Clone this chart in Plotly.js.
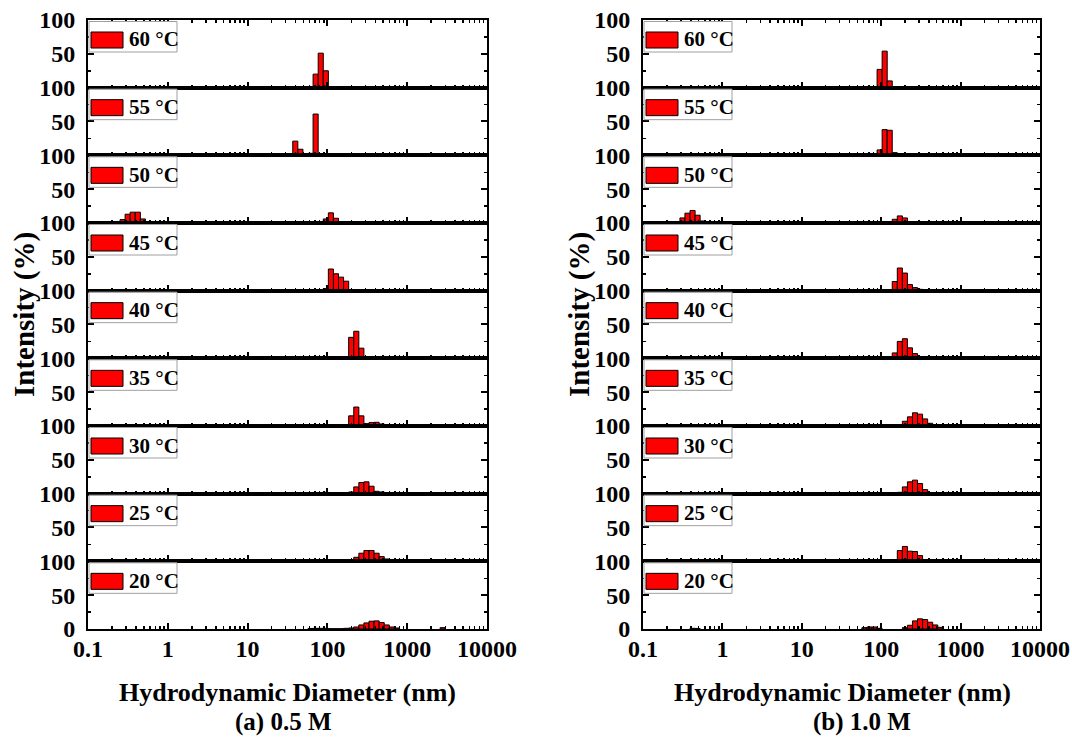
<!DOCTYPE html>
<html><head><meta charset="utf-8">
<script src="https://cdn.plot.ly/plotly-3.0.1.min.js"></script>
<style>html,body{margin:0;padding:0;background:#fff}#chart{width:1072px;height:738px}</style>
</head><body><div id="chart"></div>
<script>
// ---------------- DATA ----------------
const temps = ['60 °C','55 °C','50 °C','45 °C','40 °C','35 °C','30 °C','25 °C','20 °C'];
const xTickVals = [0.1, 1, 10, 100, 1000, 10000];
const xTickText = ['0.1', '1', '10', '100', '1000', '10000'];
const yTickVals = [0, 50, 100];
const binWidthDecades = 0.0637; // size-class width (log10 units)

// (a) 0.5 M : diameters (nm) and intensities (%)
const a60_d = [71.2, 82.5, 95.5];
const a60_i = [20, 51, 25];
const a55_d = [39.6, 45.9, 53.1, 61.5, 71.2];
const a55_i = [21, 9, 2, 3, 61];
const a50_d = [0.271, 0.314, 0.363, 0.421, 0.487, 95.5, 110.6, 128.0];
const a50_i = [5, 13, 16, 16, 6, 6, 15, 7];
const a45_d = [0.314, 95.5, 110.6, 128.0, 148.2, 171.7, 198.8];
const a45_i = [0.5, 3, 32, 25, 20, 14, 1];
const a40_d = [171.7, 198.8, 230.2, 266.5, 308.6];
const a40_i = [2, 31, 40, 15, 2];
const a35_d = [0.363, 0.421, 95.5, 110.6, 128.0, 198.8, 230.2, 266.5, 308.6, 357.3, 413.7, 479.1];
const a35_i = [0.8, 0.8, 1.5, 1.5, 1, 15, 28, 15, 3.5, 5, 5.5, 3];
const a30_d = [82.5, 95.5, 110.6, 198.8, 230.2, 266.5, 308.6, 357.3, 413.7, 479.1, 554.7];
const a30_i = [1, 2, 1.5, 2.5, 10, 16.5, 17.5, 11, 3.5, 2.5, 1.5];
const a25_d = [71.2, 82.5, 95.5, 148.2, 171.7, 198.8, 230.2, 266.5, 308.6, 357.3, 413.7, 479.1, 554.7, 642.3, 2782];
const a25_i = [0.5, 0.8, 0.5, 0.5, 0.5, 2, 6, 12, 16, 16, 12, 7, 3.5, 1.5, 1];
const a20_d = [61.5, 71.2, 82.5, 95.5, 110.6, 128.0, 148.2, 171.7, 198.8, 230.2, 266.5, 308.6, 357.3, 413.7, 479.1, 554.7, 642.3, 743.7, 2782];
const a20_i = [0.8, 1, 1, 1, 0.5, 0.5, 0.5, 1, 1.5, 3, 6, 9, 11.5, 12, 9.5, 6, 3, 1.5, 2];

// (b) 1.0 M
const b60_d = [95.5, 110.6, 128.0];
const b60_i = [27, 54, 10];
const b55_d = [0.363, 0.421, 95.5, 110.6, 128.0, 148.2];
const b55_i = [2, 1.5, 8, 38, 37, 4];
const b50_d = [0.271, 0.314, 0.363, 0.421, 0.487, 0.564, 148.2, 171.7, 198.8, 230.2];
const b50_i = [2, 7.5, 14.5, 18.5, 11.5, 3, 5.5, 10.5, 7.5, 1.5];
const b45_d = [0.421, 148.2, 171.7, 198.8, 230.2, 266.5, 308.6];
const b45_i = [1, 13.5, 33.5, 26, 9, 4.5, 2];
const b40_d = [0.756, 148.2, 171.7, 198.8, 230.2, 266.5, 308.6];
const b40_i = [0.8, 8, 25, 29, 15.5, 7, 2];
const b35_d = [0.421, 39.6, 45.9, 110.6, 128.0, 148.2, 171.7, 198.8, 230.2, 266.5, 308.6, 357.3, 413.7];
const b35_i = [1, 0.8, 0.8, 1.5, 1.5, 1, 2, 7, 13.5, 19.5, 17.5, 10.5, 4];
const b30_d = [0.363, 0.421, 61.5, 171.7, 198.8, 230.2, 266.5, 308.6, 357.3, 413.7];
const b30_i = [0.5, 0.5, 0.5, 2, 10, 17.5, 20, 15, 6, 1.5];
const b25_d = [0.363, 0.421, 148.2, 171.7, 198.8, 230.2, 266.5, 308.6, 357.3];
const b25_i = [0.8, 1, 2, 16, 22, 15, 14.5, 8.5, 1.5];
const b20_d = [0.421, 0.487, 61.5, 71.2, 82.5, 95.5, 198.8, 230.2, 266.5, 308.6, 357.3, 413.7, 479.1, 554.7];
const b20_i = [1, 0.8, 2, 3, 3, 1, 2, 5.5, 12, 15, 14, 10, 6, 2.5];

const panelA = [[a60_d,a60_i],[a55_d,a55_i],[a50_d,a50_i],[a45_d,a45_i],[a40_d,a40_i],[a35_d,a35_i],[a30_d,a30_i],[a25_d,a25_i],[a20_d,a20_i]];
const panelB = [[b60_d,b60_i],[b55_d,b55_i],[b50_d,b50_i],[b45_d,b45_i],[b40_d,b40_i],[b35_d,b35_i],[b30_d,b30_i],[b25_d,b25_i],[b20_d,b20_i]];

// ---------------- LAYOUT ----------------
const W = 1072, H = 738;
const FONT = "'Liberation Serif', 'Times New Roman', serif";
const panels = [
  {data: panelA, x0: 88, x1: 487, caption: '(a) 0.5 M', capX: 283, titleX: 287},
  {data: panelB, x0: 643, x1: 1040, caption: '(b) 1.0 M', capX: 862, titleX: 842}
];
const plotTop = 20, plotBottom = 629, nSub = temps.length;
const subH = (plotBottom - plotTop) / nSub;
const px = v => v / W;
const py = v => 1 - v / H;

const minorX = [];
for (let e = -1; e <= 3; e++) for (let m = 2; m <= 9; m++) minorX.push(Math.log10(m * Math.pow(10, e)));

const traces = [];
const layout = {
  width: W, height: H, autosize: false,
  margin: {l: 0, r: 0, t: 0, b: 0, pad: 0},
  paper_bgcolor: '#fff', plot_bgcolor: 'rgba(0,0,0,0)',
  showlegend: false, bargap: 0,
  font: {family: FONT, color: '#000'},
  shapes: [], annotations: []
};

panels.forEach((p, pi) => {
  p.data.forEach((series, i) => {
    const idx = pi * nSub + i + 1;
    const xk = 'x' + (idx === 1 ? '' : idx), yk = 'y' + (idx === 1 ? '' : idx);
    const top = plotTop + i * subH, bot = top + subH;
    const last = i === nSub - 1;
    traces.push({
      type: 'bar', xaxis: xk, yaxis: yk,
      x: series[0].map(d => Math.log10(d)), y: series[1],
      width: binWidthDecades,
      marker: {color: '#ff0000', line: {color: '#000', width: 1}},
      hoverinfo: 'skip'
    });
    layout['xaxis' + (idx === 1 ? '' : idx)] = {
      domain: [px(p.x0), px(p.x1)], anchor: yk, range: [-1, 4], type: 'linear',
      tickmode: 'array', tickvals: xTickVals.map(v => Math.log10(v)), ticktext: xTickText,
      showticklabels: last, ticks: 'inside', ticklen: 6, tickwidth: 2, tickcolor: '#000',
      showline: true, linewidth: 2, linecolor: '#000', mirror: i === 0 ? 'ticks' : true,
      minor: {tickmode: 'array', tickvals: minorX, ticks: 'inside', ticklen: 3, tickwidth: 1.5, tickcolor: '#000', showgrid: false},
      showgrid: false, zeroline: false, fixedrange: true,
      tickfont: {family: FONT, size: 24, weight: 'bold', color: '#000'},
      ticklabelstandoff: -3
    };
    layout['yaxis' + (idx === 1 ? '' : idx)] = {
      domain: [py(bot), py(top)], anchor: xk, range: [0, 100],
      tickmode: 'array', tickvals: last ? yTickVals : yTickVals.slice(1),
      ticks: 'inside', ticklen: 6, tickwidth: 2, tickcolor: '#000',
      showline: true, linewidth: 2, linecolor: '#000', mirror: 'ticks',
      minor: {tickmode: 'array', tickvals: [25, 75], ticks: 'inside', ticklen: 3, tickwidth: 1.5, tickcolor: '#000', showgrid: false},
      showgrid: false, zeroline: false, fixedrange: true,
      tickfont: {family: FONT, size: 24, weight: 'bold', color: '#000'},
      ticklabelstandoff: 6
    };
    // legend-like key box
    layout.shapes.push({type: 'rect', xref: 'paper', yref: 'paper', layer: 'above',
      x0: px(p.x0 + 1), x1: px(p.x0 + 89), y0: py(top + 1.5), y1: py(top + 32),
      line: {color: '#a0a0a0', width: 1}, fillcolor: '#fff'});
    layout.shapes.push({type: 'rect', xref: 'paper', yref: 'paper', layer: 'above',
      x0: px(p.x0 + 3), x1: px(p.x0 + 35), y0: py(top + 12), y1: py(top + 28),
      line: {color: '#000', width: 1}, fillcolor: '#ff0000'});
    layout.annotations.push({xref: 'paper', yref: 'paper', x: px(p.x0 + 39), y: py(top + 19.5),
      xanchor: 'left', yanchor: 'middle', showarrow: false, text: temps[i],
      font: {family: FONT, size: 21, weight: 'bold', color: '#000'}});
  });
  layout.annotations.push({xref: 'paper', yref: 'paper', x: px(p.titleX), y: py(692),
    xanchor: 'center', yanchor: 'middle', showarrow: false, text: 'Hydrodynamic Diameter (nm)',
    font: {family: FONT, size: 26, weight: 'bold', color: '#000'}});
  layout.annotations.push({xref: 'paper', yref: 'paper', x: px(p.capX), y: py(722),
    xanchor: 'center', yanchor: 'middle', showarrow: false, text: p.caption,
    font: {family: FONT, size: 25, weight: 'bold', color: '#000'}});
  layout.annotations.push({xref: 'paper', yref: 'paper', x: px(p.x0 - 63), y: py(315),
    xanchor: 'center', yanchor: 'middle', showarrow: false, text: 'Intensity (%)', textangle: -90,
    font: {family: FONT, size: 29, weight: 'bold', color: '#000'}});
});

Plotly.newPlot('chart', traces, layout, {staticPlot: true, displayModeBar: false});
</script></body></html>
